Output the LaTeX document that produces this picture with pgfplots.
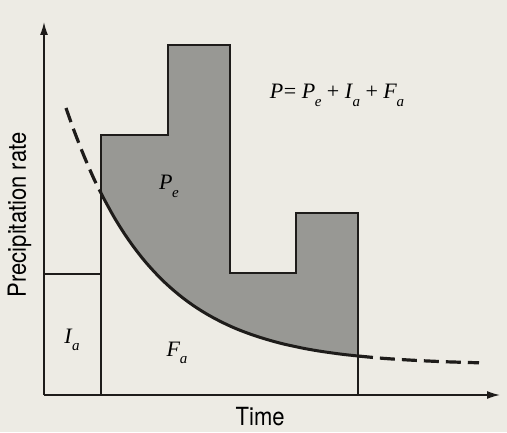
\documentclass[border=0pt]{standalone}
\usepackage{pgfplots}
\pgfplotsset{compat=1.18}
\usepackage{pgfplotstable}
\usetikzlibrary{arrows.meta}
\usepackage{fontspec}
\setmainfont{Liberation Serif}
\newfontfamily\labelfont[FakeStretch=0.88]{TeX Gyre Heros}

\definecolor{paper}{RGB}{237,235,228}
\definecolor{ink}{RGB}{30,28,26}
\definecolor{excess}{RGB}{152,152,148}

% italic symbol with a lowered italic subscript
\newcommand{\sym}[2]{\textit{#1}\kern-0.5pt\raisebox{-0.34em}{\fontsize{15}{15}\selectfont\textit{#2}}}

% rainfall hyetograph outline (time, rate)
\pgfplotstableread{
t rate
57 0
57 260
124 260
124 350
186 350
186 122
252 122
252 182
314 182
314 0
}\hyetograph

% initial abstraction block
\pgfplotstableread{
t rate
0 121
57 121
}\initial

% infiltration capacity before ponding
\pgfplotstableread{
t rate
22 287
30 264.5
40 239
50 216
57 202
}\infbefore

% infiltration rate during the excess period
\pgfplotstableread{
t rate
57 202
60 196.1
70 178.0
80 161.9
90 147.6
100 134.8
110 123.5
120 113.3
130 104.3
140 96.2
150 89.0
160 82.6
170 76.9
180 71.8
190 67.2
200 63.2
210 59.6
220 56.4
230 53.5
240 50.9
250 48.7
260 46.6
270 44.8
280 43.2
290 41.8
300 40.5
314 39.0
}\infduring

% infiltration capacity after rain stops
\pgfplotstableread{
t rate
314 39.0
340 36.6
370 34.7
400 33.3
435 32.2
}\infafter

\begin{document}
\begin{tikzpicture}
\fill[paper] (-44pt,-37pt) rectangle (463pt,395pt);
\begin{axis}[
  scale only axis,
  width=456pt, height=373pt,
  xmin=0, xmax=456, ymin=0, ymax=373,
  axis lines=left,
  axis line style={ink, line width=1.5pt, -{Latex[length=13pt,width=8pt]}},
  xtick=\empty, ytick=\empty,
  clip=false,
  xlabel={\labelfont\fontsize{25}{26}\selectfont Time},
  ylabel={\labelfont\fontsize{25}{26}\selectfont Precipitation rate},
  xlabel style={at={(axis description cs:0.474,-0.058)}, anchor=center, inner sep=0pt},
  ylabel style={at={(axis description cs:-0.054,0.483)}, anchor=center, rotate=0, inner sep=0pt},
  every axis plot/.append style={ink},
]
% rainfall excess: between the hyetograph and the infiltration curve
\addplot[fill=excess, draw=none] coordinates {
  (57,202) (57,260) (124,260) (124,350) (186,350) (186,122) (252,122)
  (252,182) (314,182) (314,39.0) (300,40.5) (290,41.8) (280,43.2)
  (270,44.8) (260,46.6) (250,48.7) (240,50.9) (230,53.5) (220,56.4)
  (210,59.6) (200,63.2) (190,67.2) (180,71.8) (170,76.9) (160,82.6)
  (150,89.0) (140,96.2) (130,104.3) (120,113.3) (110,123.5) (100,134.8)
  (90,147.6) (80,161.9) (70,178.0) (60,196.1) (57,202)
} -- cycle;

\addplot[line width=3.2pt, smooth, dash pattern=on 15pt off 7pt] table[x=t, y=rate] {\infbefore};
\addplot[line width=3pt, smooth] table[x=t, y=rate] {\infduring};
\addplot[line width=3.2pt, smooth, dash pattern=on 15pt off 7pt] table[x=t, y=rate] {\infafter};

\addplot[line width=1.5pt, line join=miter] table[x=t, y=rate] {\hyetograph};
\addplot[line width=1.5pt] table[x=t, y=rate] {\initial};

\node[anchor=base, font=\fontsize{22}{24}\selectfont] at (axis cs:125,205) {\sym{P}{e}};
\node[anchor=base, font=\fontsize{22}{24}\selectfont] at (axis cs:28,52) {\sym{I}{a}};
\node[anchor=base, font=\fontsize{22}{24}\selectfont] at (axis cs:133,39) {\sym{F}{a}};
\node[anchor=base, font=\fontsize{22}{24}\selectfont] at (axis cs:293,296)
  {\textit{P}\kern0.5pt= \sym{P}{e} + \sym{I}{a} + \sym{F}{a}};
\end{axis}
\pgfresetboundingbox
\path[use as bounding box] (-44pt,-37pt) rectangle (463pt,395pt);
\end{tikzpicture}
\end{document}
